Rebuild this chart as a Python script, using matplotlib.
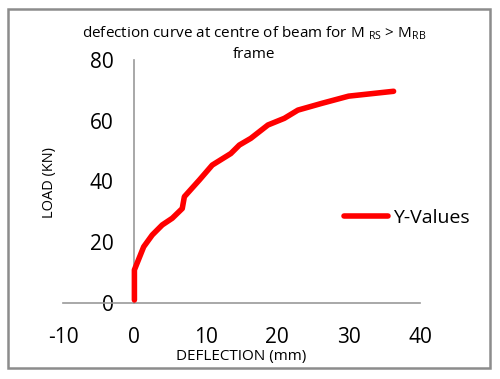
import matplotlib.pyplot as plt
from matplotlib.patches import Rectangle

plt.rcParams['font.family'] = ['Open Sans', 'DejaVu Sans']
plt.rcParams['mathtext.fontset'] = 'custom'
plt.rcParams['mathtext.rm'] = 'Open Sans'
plt.rcParams['axes.unicode_minus'] = False

# deflection (mm) vs load (KN)
deflection = [0.0, 0.0, 1.3, 2.5, 3.9, 5.3, 6.7, 7.0, 9.1, 10.9, 13.5,
              14.7, 16.3, 18.7, 21.0, 22.9, 26.2, 30.0, 36.3]
load = [1.0, 10.9, 18.5, 22.4, 25.7, 27.9, 31.1, 35.0, 40.5, 45.4, 49.2,
        52.0, 54.2, 58.6, 60.8, 63.5, 65.7, 68.1, 69.7]
xticks = [-10, 0, 10, 20, 30, 40]
yticks = [0, 20, 40, 60, 80]

fig = plt.figure(figsize=(5, 3.79), dpi=100)
W, H = 500, 379
ax = fig.add_axes([63 / W, 1 - 303 / H, (420 - 63) / W, (303 - 60) / H])

ax.plot(deflection, load, color='#ff0000', lw=4, solid_capstyle='round',
        solid_joinstyle='round', label='Y-Values', zorder=3)
ax.set_xlim(-10, 40)
ax.set_ylim(0, 80)
ax.set_xticks(xticks)
ax.set_yticks(yticks)

for s in ['top', 'right']:
    ax.spines[s].set_visible(False)
ax.spines['left'].set_position(('data', 0))
ax.spines['left'].set_color('#999999')
ax.spines['bottom'].set_color('#999999')
ax.spines['left'].set_linewidth(1.2)
ax.spines['bottom'].set_linewidth(1.2)
ax.tick_params(axis='both', length=0, labelsize=15, colors='black')
ax.tick_params(axis='x', pad=17)
ax.tick_params(axis='y', pad=15)

ax.set_xlabel('DEFLECTION (mm)', fontsize=11, labelpad=1)
fig.text(50 / W, 1 - 183 / H, 'LOAD (KN)', rotation=90, fontsize=10.5,
         ha='center', va='center')

fig.text(254 / W, 1 - 33 / H,
         'defection curve at centre of beam for M $_{\\mathregular{RS}}$ > M$_{\\mathregular{RB}}$',
         fontsize=11, ha='center', va='center')
fig.text(254 / W, 1 - 54 / H, 'frame', fontsize=11, ha='center', va='center')

fig.legend(loc='center left', bbox_to_anchor=(326 / W, 1 - 218 / H),
           frameon=False, fontsize=14, handlelength=2.3, handletextpad=0.25)

fig.patches.append(Rectangle((8 / W, 1 - 368 / H), (490 - 8) / W, (368 - 9) / H,
                             transform=fig.transFigure, fill=False,
                             edgecolor='#8c8c8c', lw=1.8))

fig.savefig('out.png', dpi=100)
